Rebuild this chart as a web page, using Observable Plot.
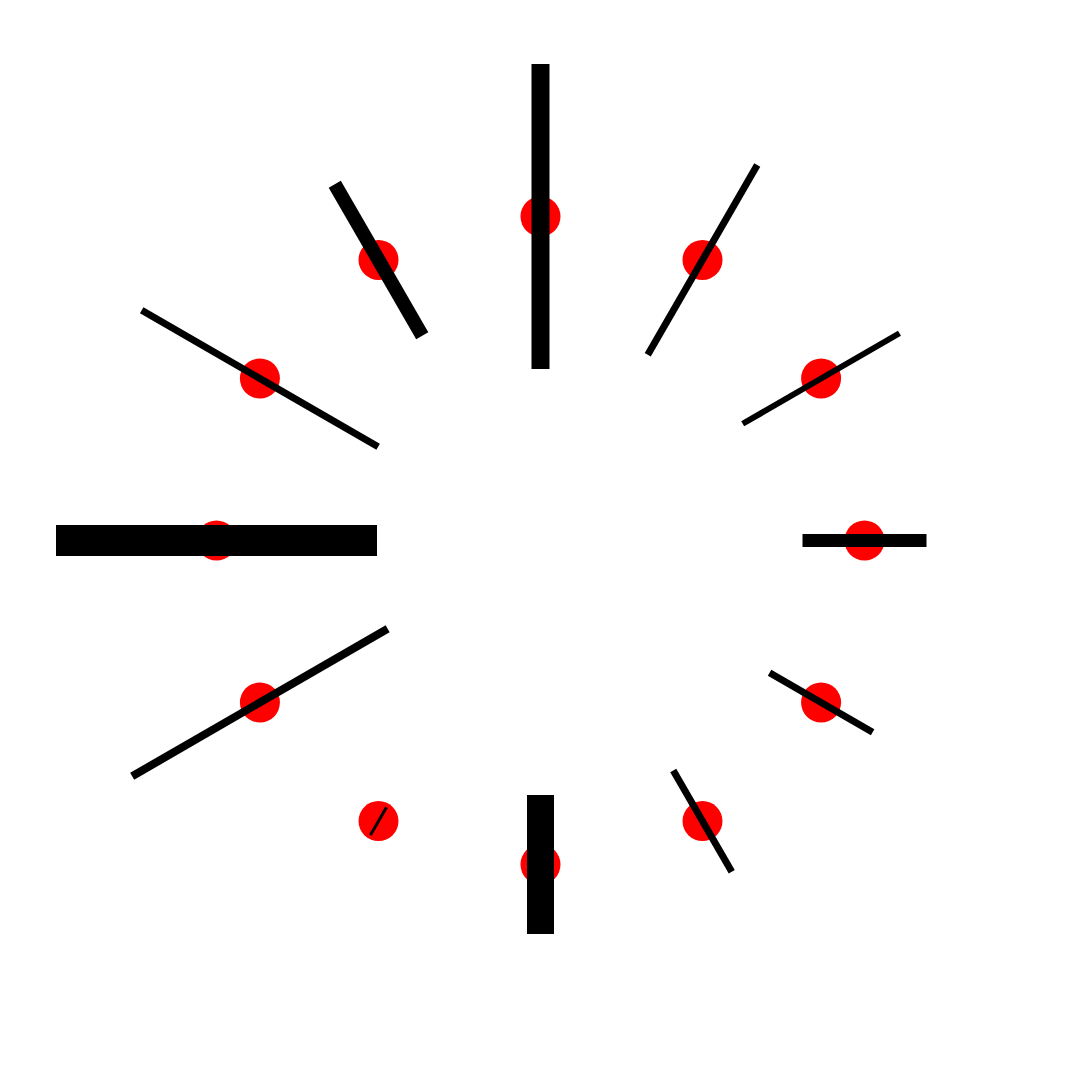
<!DOCTYPE html>
<html>
<head>
<meta charset="utf-8">
<script src="https://cdn.jsdelivr.net/npm/d3@7"></script>
<script src="https://cdn.jsdelivr.net/npm/@observablehq/plot@0.6"></script>
<style>
  html, body { margin: 0; padding: 0; background: #fff; }
  #chart svg { display: block; }
</style>
</head>
<body>
<div id="chart"></div>
<script>
// Data: one vector per 30° step around a circle
const angles = [0, 30, 60, 90, 120, 150, 180, 210, 240, 270, 300, 330];
const lengths = [305, 219, 181, 124, 119, 117, 139, 32, 295, 321, 273, 175];
const widths = [18, 7, 6, 13, 7, 7, 27, 3, 8, 31, 7, 14];

const data = angles.map((a, i) => ({
  angle: a,
  x: Math.sin(a * Math.PI / 180),
  y: Math.cos(a * Math.PI / 180),
  length: lengths[i],
  width: widths[i]
}));

const chart = Plot.plot({
  width: 1080,
  height: 1080,
  margin: 0,
  x: {domain: [-5 / 3, 5 / 3], axis: null},
  y: {domain: [-5 / 3, 5 / 3], axis: null},
  length: {type: "identity"},
  marks: [
    Plot.dot(data, {x: "x", y: "y", r: 20, fill: "red"}),
    Plot.vector(data, {
      x: "x",
      y: "y",
      rotate: "angle",
      length: "length",
      strokeWidth: "width",
      strokeLinecap: "butt",
      anchor: "middle",
      shape: {draw(context, l) { context.moveTo(0, 0); context.lineTo(0, -l); }},
      stroke: "black"
    })
  ]
});
document.getElementById("chart").appendChild(chart);
</script>
</body>
</html>
